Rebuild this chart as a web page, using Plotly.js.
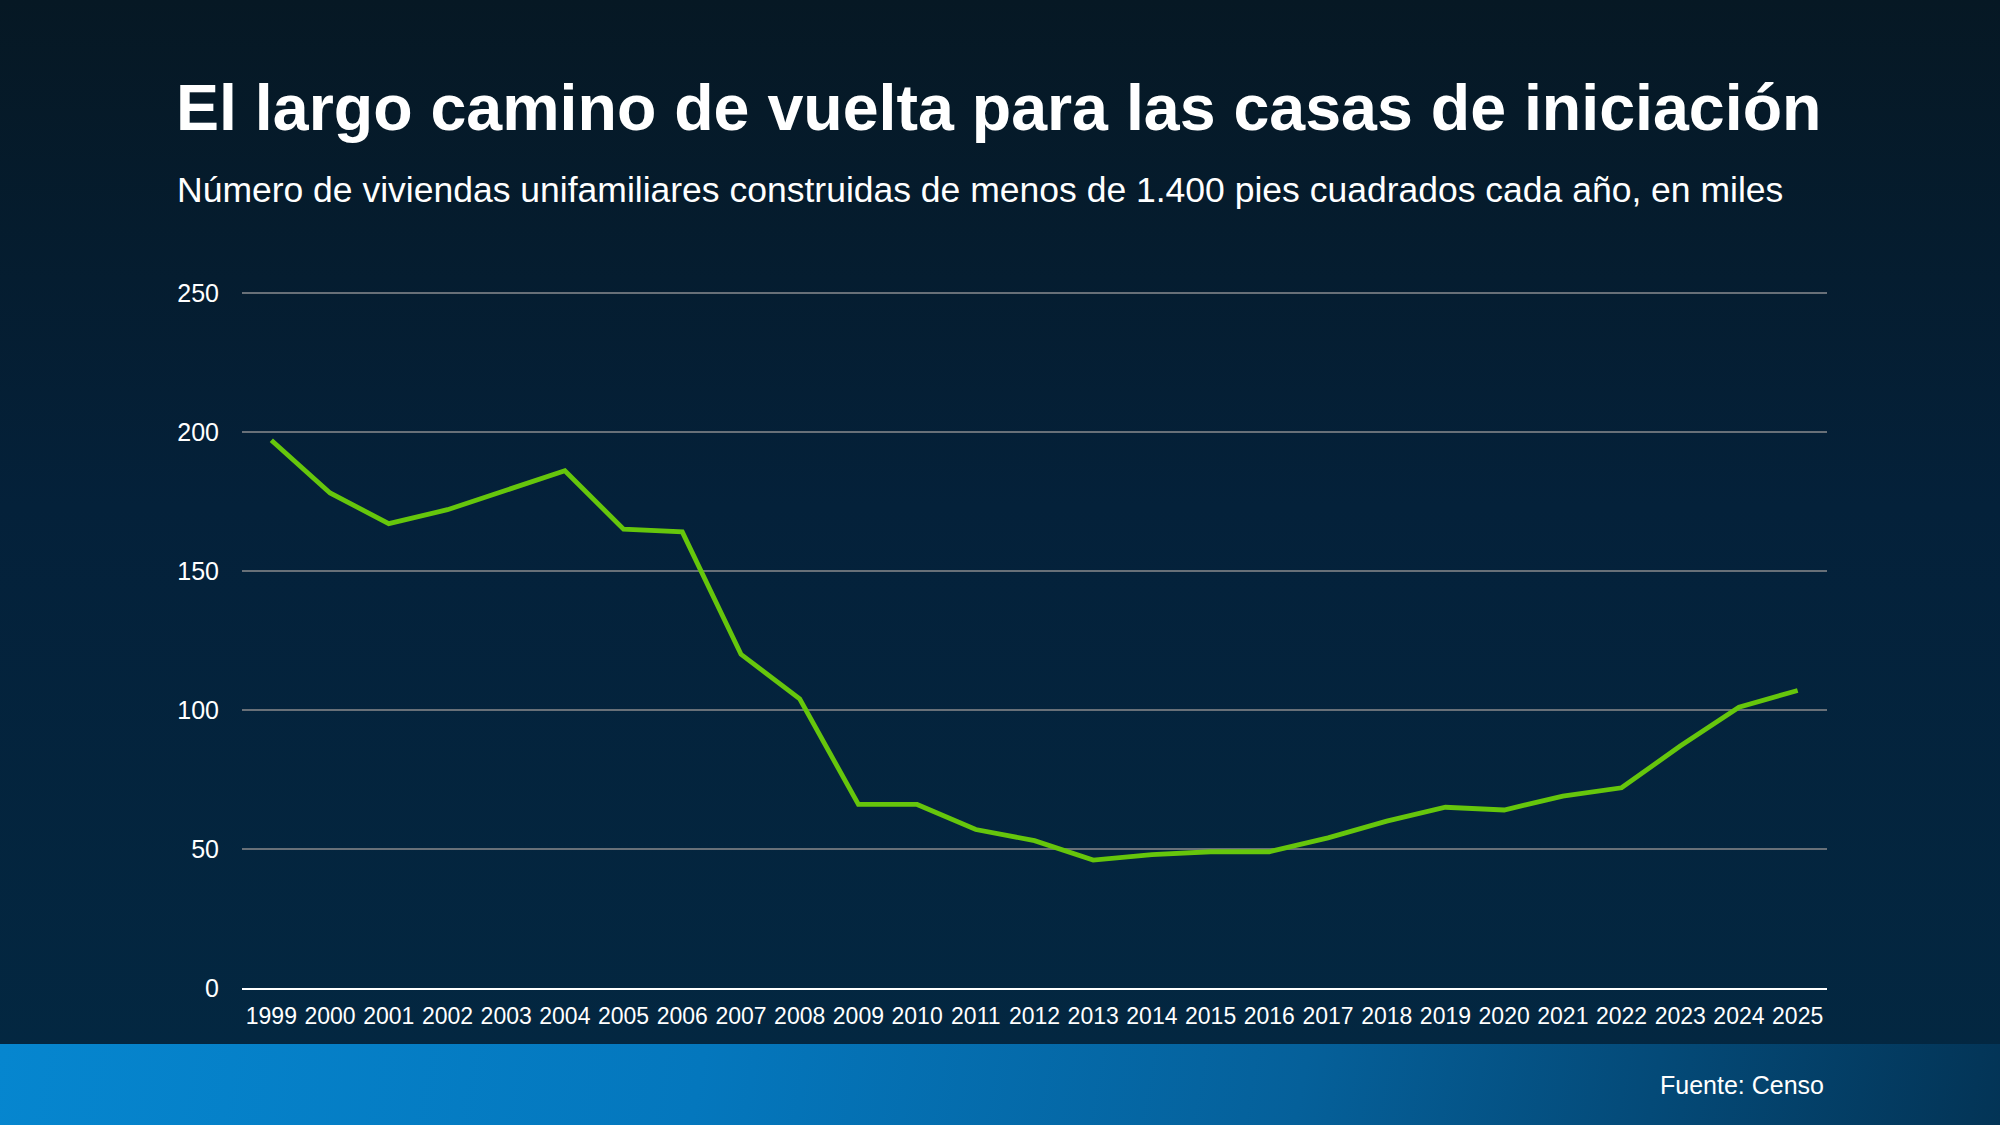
<!DOCTYPE html>
<html>
<head>
<meta charset="utf-8">
<script src="https://cdn.plot.ly/plotly-3.0.1.min.js"></script>
<style>
  html, body { margin: 0; padding: 0; width: 2000px; height: 1125px; overflow: hidden; }
  body { background: linear-gradient(180deg, #061824 0%, #04213a 45%, #032842 100%); position: relative; }
  #band { position: absolute; left: 0; top: 1044px; width: 2000px; height: 81px;
          background: linear-gradient(100deg, #0686cf 0%, #0477bd 35%, #05609a 65%, #033456 100%); }
  #chart { position: absolute; left: 0; top: 0; width: 2000px; height: 1125px; }
</style>
</head>
<body>
<div id="band"></div>
<div id="chart"></div>
<script>
// Single-family homes under 1,400 sq ft completed each year (thousands)
const years = ['1999','2000','2001','2002','2003','2004','2005','2006','2007','2008','2009','2010','2011',
               '2012','2013','2014','2015','2016','2017','2018','2019','2020','2021','2022','2023','2024','2025'];
const homesThousands = [197, 178, 167, 172, 179, 186, 165, 164, 120, 104, 66, 66, 57,
                        53, 46, 48, 49, 49, 54, 60, 65, 64, 69, 72, 87, 101, 107];
const yTicks = [0, 50, 100, 150, 200, 250];

const titleText = 'El largo camino de vuelta para las casas de iniciación';
const subtitleText = 'Número de viviendas unifamiliares construidas de menos de 1.400 pies cuadrados cada año, en miles';
const sourceText = 'Fuente: Censo';

const FONT = '"Liberation Sans", Arial, Helvetica, sans-serif';

// plot area in page pixels (used to place the free-floating texts)
const PLOT_L = 242, PLOT_R = 1827, PLOT_T = 290, PLOT_B = 988;
const px2paperX = x => (x - PLOT_L) / (PLOT_R - PLOT_L);
const px2paperY = y => (PLOT_B - y) / (PLOT_B - PLOT_T);

const trace = {
  type: 'scatter',
  mode: 'lines',
  x: years,
  y: homesThousands,
  line: { color: '#66c60c', width: 4.8 },
  hoverinfo: 'skip'
};

const layout = {
  width: 2000,
  height: 1125,
  paper_bgcolor: 'rgba(0,0,0,0)',
  plot_bgcolor: 'rgba(0,0,0,0)',
  margin: { l: PLOT_L, r: 2000 - PLOT_R, t: PLOT_T, b: 1125 - PLOT_B },
  showlegend: false,
  font: { family: FONT, color: '#ffffff' },
  title: {
    text: '<b>' + titleText + '</b>',
    font: { family: FONT, size: 64.5, color: '#ffffff' },
    xref: 'container', x: 176 / 2000, xanchor: 'left',
    yref: 'container', y: 1 - 107 / 1125, yanchor: 'middle'
  },
  xaxis: {
    type: 'category',
    range: [-0.5, years.length - 0.5],
    showgrid: false,
    showline: true,
    linecolor: '#ffffff',
    linewidth: 2,
    ticks: '',
    tickfont: { family: FONT, size: 23, color: '#ffffff' },
    ticklabelstandoff: 6,
    zeroline: false,
    fixedrange: true
  },
  yaxis: {
    range: [0, 251],
    tickvals: yTicks,
    ticktext: yTicks.map(String),
    showgrid: true,
    gridcolor: '#687078',
    gridwidth: 1.5,
    showline: false,
    zeroline: false,
    ticks: '',
    tickfont: { family: FONT, size: 25, color: '#ffffff' },
    ticklabelstandoff: 22,
    fixedrange: true
  },
  annotations: [
    {
      text: subtitleText,
      xref: 'paper', yref: 'paper',
      x: px2paperX(175), y: px2paperY(190),
      xanchor: 'left', yanchor: 'middle',
      showarrow: false,
      font: { family: FONT, size: 35.5, color: '#ffffff' }
    },
    {
      text: sourceText,
      xref: 'paper', yref: 'paper',
      x: px2paperX(1826), y: px2paperY(1085),
      xanchor: 'right', yanchor: 'middle',
      showarrow: false,
      font: { family: FONT, size: 25, color: '#ffffff' }
    }
  ]
};

Plotly.newPlot('chart', [trace], layout, { displayModeBar: false, staticPlot: true });
</script>
</body>
</html>
